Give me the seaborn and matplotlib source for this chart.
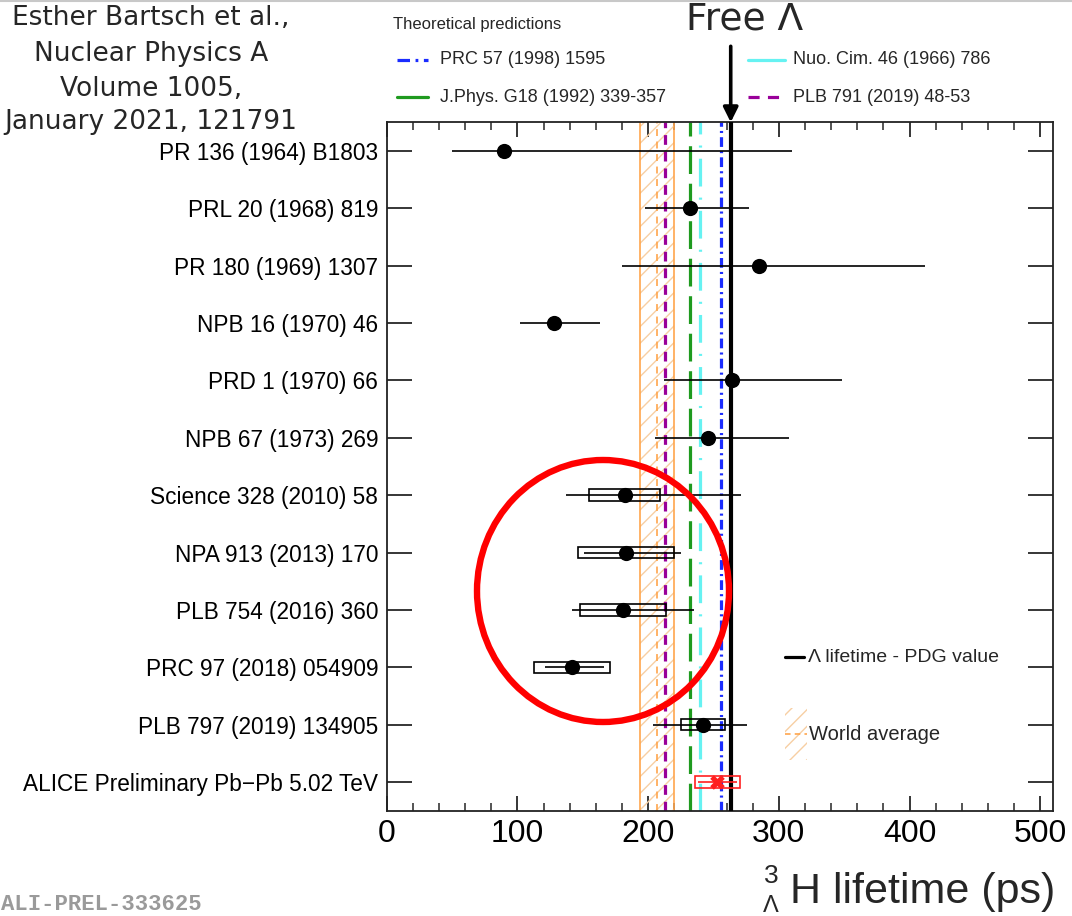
import numpy as np
import pandas as pd
import matplotlib
matplotlib.use("Agg")
import matplotlib.pyplot as plt
import seaborn as sns
from matplotlib.patches import Rectangle, Ellipse
from matplotlib.lines import Line2D
from matplotlib.ticker import MultipleLocator

# ---------------- data ----------------
refs = ["PR 136 (1964) B1803", "PRL 20 (1968) 819", "PR 180 (1969) 1307",
        "NPB 16 (1970) 46", "PRD 1 (1970) 66", "NPB 67 (1973) 269",
        "Science 328 (2010) 58", "NPA 913 (2013) 170", "PLB 754 (2016) 360",
        "PRC 97 (2018) 054909", "PLB 797 (2019) 134905",
        "ALICE Preliminary Pb\u2212Pb 5.02 TeV"]
lifetime = [90, 232, 285, 128, 264, 246, 182, 183, 181, 142, 242, 253]
stat_lo = [40, 34, 105, 26, 52, 41, 45, 32, 39, 21, 38, 15]
stat_hi = [220, 45, 127, 35, 84, 62, 89, 42, 54, 24, 34, 15]
syst = [np.nan, np.nan, np.nan, np.nan, np.nan, np.nan, 27, 37, 33, 29, 17, 17]

theory_labels = ["PRC 57 (1998) 1595", "J.Phys. G18 (1992) 339-357",
                 "Nuo. Cim. 46 (1966) 786", "PLB 791 (2019) 48-53"]
theory_values = [256, 232, 239.5, 213]
pdg_lambda = 263.2
world_avg = 206.6
world_avg_err = 13.0

xticks = [0, 100, 200, 300, 400, 500]

# ---------------- style ----------------
W, H = 1072, 916
sns.set_theme(style="ticks")
plt.rcParams['font.family'] = ['Liberation Sans', 'DejaVu Sans']
plt.rcParams['lines.scale_dashes'] = False
plt.rcParams['hatch.linewidth'] = 1.0

theory_colors = ["#1a2cff", "#1f9a1f", "#66f2f2", "#990099"]
theory_dashes = [(7, 3, 1.5, 3), (20, 7), (20, 8, 1.5, 8), (7, 5)]
orange = "#ffa64d"
hatch_col = "#f7cfa3"

def fx(px):
    return px / W

def fy(py):
    return 1 - py / H

fig = plt.figure(figsize=(W / 100, H / 100), dpi=100)
fig.patch.set_facecolor("white")
ax = fig.add_axes([fx(386.7), fy(810.7), (1053.3 - 386.7) / W, (810.7 - 122.3) / H])
ax.set_facecolor("white")

df = pd.DataFrame({"ref": refs, "lifetime": lifetime, "row": np.arange(len(refs)),
                   "lo": stat_lo, "hi": stat_hi, "syst": syst})

# world average band
ax.axvspan(world_avg - world_avg_err, world_avg + world_avg_err, facecolor="none",
           edgecolor=hatch_col, hatch="//", lw=0, zorder=1)
for xv in (world_avg - world_avg_err, world_avg + world_avg_err):
    ax.axvline(xv, color=orange, lw=1.2, zorder=2)
ax.axvline(world_avg, color=orange, lw=1.2, dashes=(5, 4), zorder=2)

# theory predictions
for v, c, d in zip(theory_values, theory_colors, theory_dashes):
    ax.axvline(v, color=c, lw=2.3, dashes=d, zorder=2)

# PDG Lambda lifetime
ax.axvline(pdg_lambda, color="black", lw=3.0, zorder=3)

# error bars and syst boxes
for _, r in df.iterrows():
    col = "#ff2020" if r["row"] == len(refs) - 1 else "black"
    ax.hlines(r["row"], r["lifetime"] - r["lo"], r["lifetime"] + r["hi"],
              color=col, lw=1.2, zorder=4)
    if not np.isnan(r["syst"]):
        ax.add_patch(Rectangle((r["lifetime"] - r["syst"], r["row"] - 0.1),
                               2 * r["syst"], 0.2, fill=False, edgecolor=col,
                               lw=1.2, zorder=4))

sns.scatterplot(data=df.iloc[:-1], x="lifetime", y="row", color="black", s=120,
                marker="o", linewidth=0, ax=ax, zorder=6, legend=False)
sns.scatterplot(data=df.iloc[-1:], x="lifetime", y="row", color="#ff2020", s=110,
                marker="X", linewidth=0, ax=ax, zorder=6, legend=False)

ax.set_xlim(0, 510)
ax.set_ylim(len(refs) - 0.5, -0.5)
ax.set_xticks(xticks)
ax.set_xticklabels([str(t) for t in xticks], fontsize=23)
ax.xaxis.set_minor_locator(MultipleLocator(20))
ax.set_yticks(np.arange(len(refs)))
ax.set_yticklabels(refs, fontsize=16.3)
ax.set_xlabel("")
ax.set_ylabel("")
ax.tick_params(axis="x", which="major", direction="in", top=True, bottom=True,
               length=11, width=1.1, pad=6, colors="black")
ax.tick_params(axis="x", which="minor", direction="in", top=True, bottom=True,
               length=6, width=1.1)
ax.tick_params(axis="y", which="major", direction="in", left=True, right=True,
               length=18, width=1.1, pad=6, colors="black")
for s in ax.spines.values():
    s.set_visible(True)
    s.set_color("#222222")
    s.set_linewidth(1.3)

# x-axis title
fig.text(fx(1055), fy(903), "H lifetime (ps)", ha="right", va="baseline", fontsize=31)
fig.text(fx(771), fy(883), "3", ha="center", va="baseline", fontsize=19)
fig.text(fx(771), fy(912), "\u039b", ha="center", va="baseline", fontsize=17)

# red circle annotation
fig.add_artist(Ellipse((fx(603), fy(591)), 252 / W, 262 / H, transform=fig.transFigure,
                       fill=False, edgecolor="#ff0000", lw=4.6, zorder=10))

# Free Lambda arrow
fig.text(fx(745), fy(20), "Free \u039b", ha="center", va="center", fontsize=27,
         family=["DejaVu Sans"])
ax.annotate("", xy=(pdg_lambda, 1.0), xycoords=("data", "axes fraction"),
            xytext=(pdg_lambda, 1 + 76 / 688.4), textcoords=("data", "axes fraction"),
            arrowprops=dict(arrowstyle="-|>", lw=2.6, color="black", mutation_scale=22,
                            shrinkA=0, shrinkB=0),
            annotation_clip=False)

# citation text
cite = ["Esther Bartsch et al.,", "Nuclear Physics A", "Volume 1005,",
        "January 2021, 121791"]
for line, by in zip(cite, [25, 61, 96, 129]):
    fig.text(fx(151), fy(by), line, ha="center", va="baseline", fontsize=19,
             family=["DejaVu Sans"])

# theoretical predictions legend
fig.text(fx(393), fy(24), "Theoretical predictions", ha="left", va="center", fontsize=12)
leg_pos = [(397, 428, 440, 60), (397, 428, 440, 97), (748, 785, 793, 60), (748, 785, 793, 97)]
leg_dashes = [(9, 4, 2, 4), None, None, (8, 6)]
for lab, c, d, (x0, x1, xt, yy) in zip(theory_labels, theory_colors, leg_dashes, leg_pos):
    ln = Line2D([fx(x0), fx(x1)], [fy(yy), fy(yy)], transform=fig.transFigure,
                color=c, lw=2.3)
    if d is not None:
        ln.set_dashes(d)
    fig.add_artist(ln)
    fig.text(fx(xt), fy(yy), lab, ha="left", va="center", fontsize=13)

# lower-right legend
fig.add_artist(Line2D([fx(785), fx(804)], [fy(657), fy(657)], transform=fig.transFigure,
                      color="black", lw=2.3))
fig.text(fx(808), fy(657), "\u039b lifetime - PDG value", ha="left", va="center",
         fontsize=14)
fig.add_artist(Rectangle((fx(785), fy(760)), 22 / W, 52 / H, transform=fig.transFigure,
                         facecolor="none", edgecolor=hatch_col, hatch="//", lw=0))
wl = Line2D([fx(785), fx(807)], [fy(734), fy(734)], transform=fig.transFigure,
            color=orange, lw=1.2)
wl.set_dashes((4, 3))
fig.add_artist(wl)
fig.text(fx(809), fy(734), "World average", ha="left", va="center", fontsize=14.5)

# watermark
fig.text(fx(1), fy(910), "ALI-PREL-333625", ha="left", va="baseline", fontsize=16,
         family=["Liberation Mono"], color="#9a9a9a", weight="bold")

# thin top border line
fig.add_artist(Line2D([0, 1], [fy(1), fy(1)], transform=fig.transFigure,
                      color="#c8c8c8", lw=1.5))

fig.savefig("out.png", dpi=100, facecolor="white")
